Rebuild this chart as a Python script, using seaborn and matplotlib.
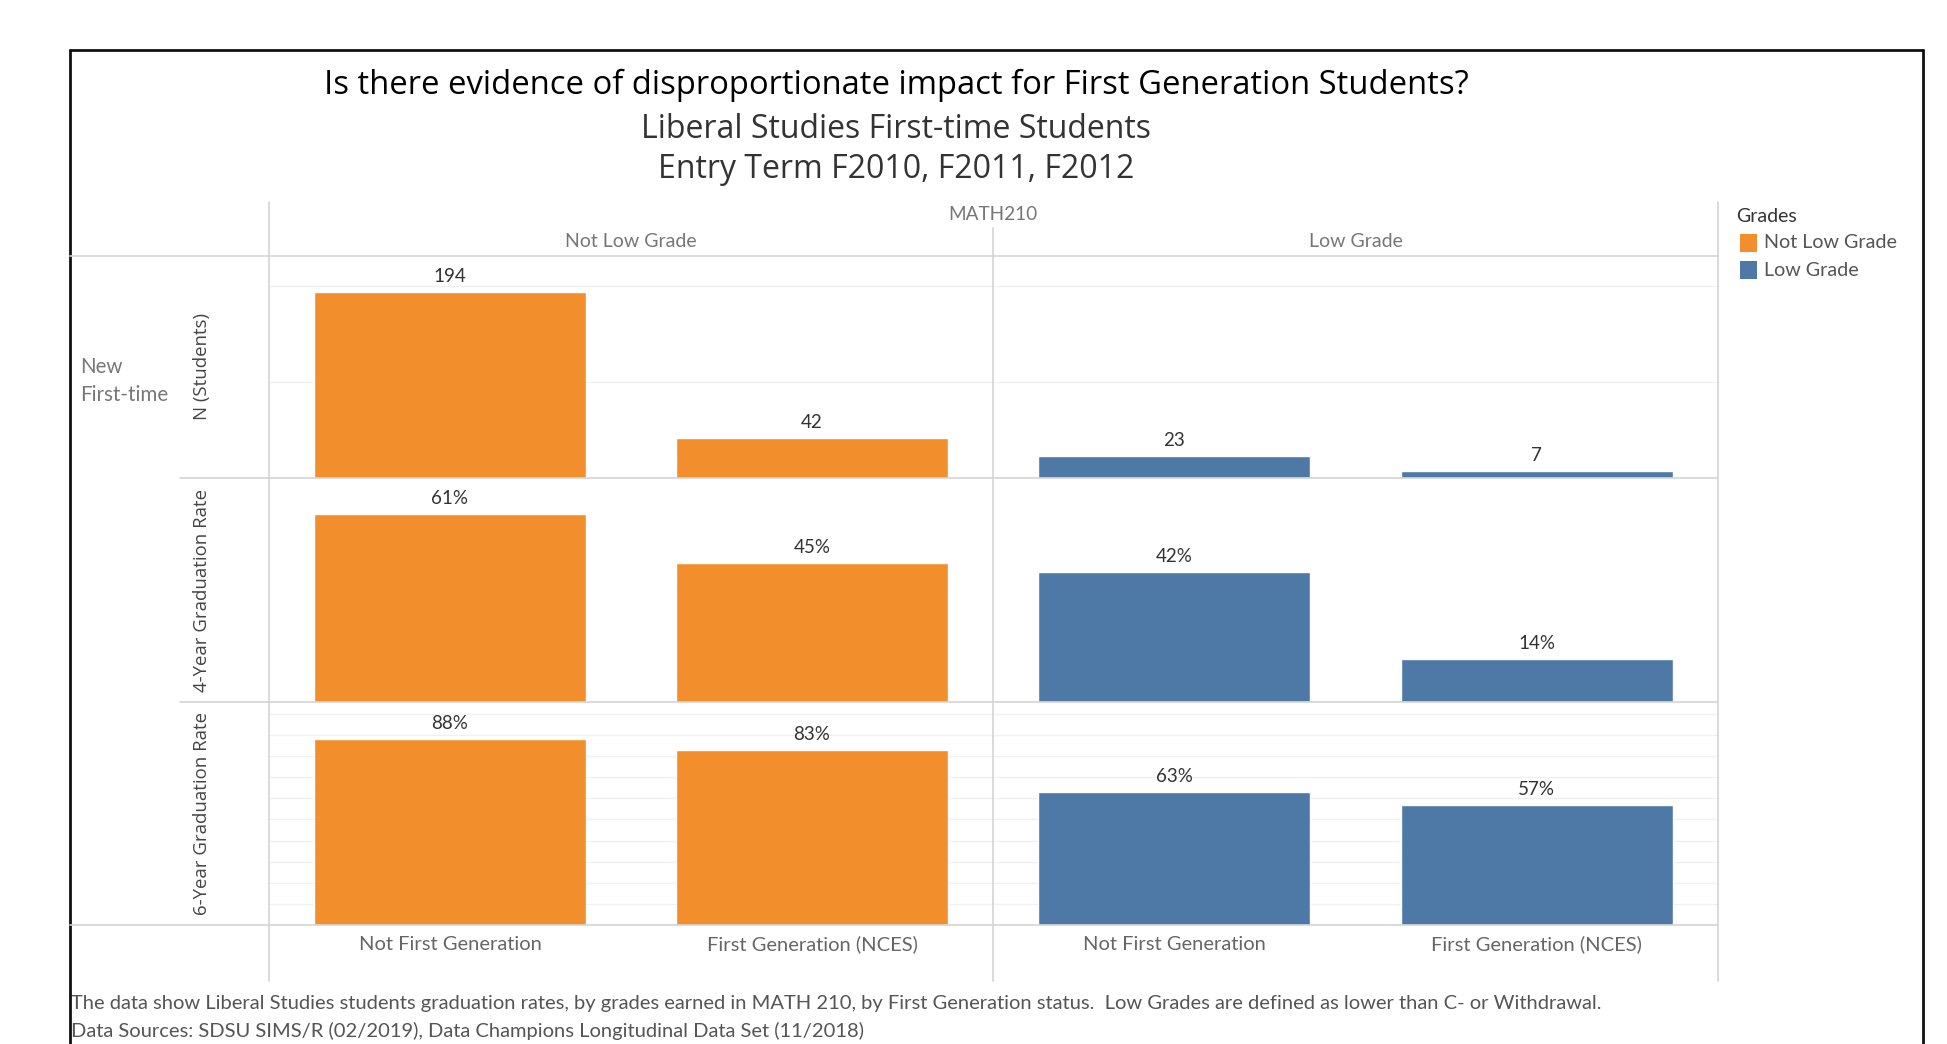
import matplotlib
matplotlib.use("Agg")
import matplotlib.pyplot as plt
from matplotlib.lines import Line2D
from matplotlib.patches import Rectangle
import pandas as pd
import seaborn as sns

# ---- data -------------------------------------------------------------
generations = ["Not First Generation", "First Generation (NCES)"]
grades = ["Not Low Grade", "Low Grade"]
metrics = ["N (Students)", "4-Year Graduation Rate", "6-Year Graduation Rate"]

n_students_not_low = [194, 42]
n_students_low = [23, 7]
grad4_not_low = [61, 45]
grad4_low = [42, 14]
grad6_not_low = [88, 83]
grad6_low = [63, 57]

grade_colors = {"Not Low Grade": "#F28E2B", "Low Grade": "#4E79A7"}

rows = []
for metric, by_grade in zip(
    metrics,
    [
        {"Not Low Grade": n_students_not_low, "Low Grade": n_students_low},
        {"Not Low Grade": grad4_not_low, "Low Grade": grad4_low},
        {"Not Low Grade": grad6_not_low, "Low Grade": grad6_low},
    ],
):
    for grade, vals in by_grade.items():
        for gen, v in zip(generations, vals):
            rows.append({"Metric": metric, "Grades": grade, "Generation": gen, "Value": v})
df = pd.DataFrame(rows)

# ---- figure -----------------------------------------------------------
W, H = 1947, 1044
sns.set_theme(style="white")
plt.rcParams["font.family"] = ["Open Sans", "DejaVu Sans"]
fig = plt.figure(figsize=(W / 100, H / 100), dpi=100)
fig.patch.set_facecolor("white")
LATO = ["Lato", "DejaVu Sans"]


def fx(x):
    return x / W


def fy(y):
    return 1 - y / H


def hline(y, x0, x1, color="#d4d4d4", lw=1.2):
    fig.add_artist(Line2D([fx(x0), fx(x1)], [fy(y), fy(y)], color=color, lw=lw,
                          transform=fig.transFigure, zorder=5))


def vline(x, y0, y1, color="#d4d4d4", lw=1.2):
    fig.add_artist(Line2D([fx(x), fx(x)], [fy(y0), fy(y1)], color=color, lw=lw,
                          transform=fig.transFigure, zorder=5))


col_edges = [269, 993, 1718]
row_edges = [256, 478, 702, 925]
row_limits = [(0, 231.5), (0, 72.6), (0, 105.6)]
row_grid = [[100, 200], [], list(range(10, 101, 10))]
row_fmt = ["{:.0f}", "{:.0f}%", "{:.0f}%"]

for r, metric in enumerate(metrics):
    for c, grade in enumerate(grades):
        x0, x1 = col_edges[c], col_edges[c + 1]
        y0, y1 = row_edges[r], row_edges[r + 1]
        ax = fig.add_axes([fx(x0), fy(y1), fx(x1) - fx(x0), (y1 - y0) / H])
        sub = df[(df["Metric"] == metric) & (df["Grades"] == grade)]
        sns.barplot(data=sub, x="Generation", y="Value", hue="Grades",
                    order=generations, palette=grade_colors, saturation=1,
                    width=0.75, legend=False, ax=ax, zorder=3)
        ax.set_xlim(-0.5, 1.5)
        ax.set_ylim(*row_limits[r])
        ax.set_yticks(row_grid[r])
        ax.grid(axis="y", color="#f0f0f0", lw=1.0, zorder=0)
        ax.grid(axis="x", visible=False)
        ax.tick_params(left=False, bottom=False, labelleft=False, labelbottom=False)
        ax.set_xlabel("")
        ax.set_ylabel("")
        for s in ax.spines.values():
            s.set_visible(False)
        for i, v in enumerate(sub.set_index("Generation").loc[generations, "Value"]):
            ax.annotate(row_fmt[r].format(v), (i, v), xytext=(0, 5),
                        textcoords="offset points", ha="center", va="bottom",
                        fontsize=13.5, color="#333333", family=LATO)

# ---- frame and table lines -------------------------------------------
hline(50, 70, 1923, color="#111111", lw=2)
vline(70, 50, 1044, color="#111111", lw=2)
vline(1923, 50, 1044, color="#111111", lw=2)

hline(256, 70, 1718)
hline(478, 180, 1718)
hline(702, 180, 1718)
hline(925, 70, 1718)
vline(269, 202, 981)
vline(993, 228, 981)
vline(1718, 202, 981)

# ---- titles -----------------------------------------------------------
fig.text(fx(896), fy(85), "Is there evidence of disproportionate impact for First Generation Students?",
         ha="center", va="center", fontsize=23.6, color="#000000")
fig.text(fx(896), fy(129), "Liberal Studies First-time Students",
         ha="center", va="center", fontsize=23, color="#333333")
fig.text(fx(896), fy(170), "Entry Term F2010, F2011, F2012",
         ha="center", va="center", fontsize=23, color="#333333")

# ---- headers ----------------------------------------------------------
hdr = dict(ha="center", va="center", fontsize=14, color="#777777", family=LATO)
fig.text(fx(993), fy(214), "MATH210", fontsize=13.7, ha="center", va="center",
         color="#777777", family=LATO)
fig.text(fx(631), fy(241), "Not Low Grade", **hdr)
fig.text(fx(1356), fy(241), "Low Grade", **hdr)

fig.text(fx(80), fy(381), "New\nFirst-time", ha="left", va="center", fontsize=14.8,
         color="#777777", linespacing=1.5, family=LATO)
for r, metric in enumerate(metrics):
    yc = (row_edges[r] + row_edges[r + 1]) / 2
    fig.text(fx(202), fy(yc), metric, ha="center", va="center", rotation=90,
             fontsize=13.4, color="#444444")

xlab = dict(ha="center", va="center", fontsize=14.5, color="#666666", family=LATO)
for c in range(2):
    x0, x1 = col_edges[c], col_edges[c + 1]
    for i, gen in enumerate(generations):
        fig.text(fx(x0 + (x1 - x0) * (0.25 + 0.5 * i)), fy(944), gen, **xlab)

# ---- legend -----------------------------------------------------------
fig.text(fx(1736), fy(217), "Grades", ha="left", va="center", fontsize=14,
         color="#333333", family=LATO)
for k, g in enumerate(grades):
    yc = 243 + 27 * k
    fig.add_artist(Rectangle((fx(1740), fy(yc + 9)), fx(17), 18 / H,
                             facecolor=grade_colors[g], edgecolor="none",
                             transform=fig.transFigure))
    fig.text(fx(1764), fy(yc), g, ha="left", va="center", fontsize=14.2,
             color="#555555", family=LATO)

# ---- footnotes --------------------------------------------------------
foot = dict(ha="left", va="center", fontsize=14.5, color="#555555", family=LATO)
fig.text(fx(71), fy(1004),
         "The data show Liberal Studies students graduation rates, by grades earned in MATH 210, "
         "by First Generation status.  Low Grades are defined as lower than C- or Withdrawal.", **foot)
fig.text(fx(71), fy(1031),
         "Data Sources: SDSU SIMS/R (02/2019), Data Champions Longitudinal Data Set (11/2018)", **foot)

fig.savefig("out.png", dpi=100, facecolor="white")
